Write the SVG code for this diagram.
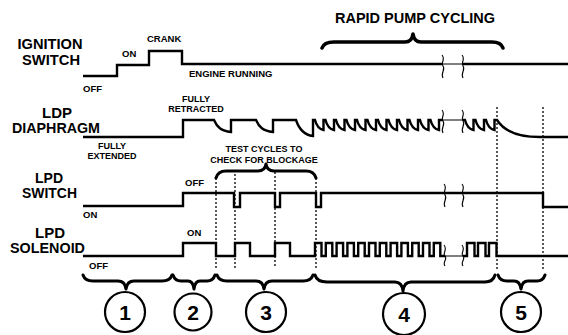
<svg xmlns="http://www.w3.org/2000/svg" width="568" height="335" viewBox="0 0 568 335">
<style>
text{font-family:"Liberation Sans",Arial,sans-serif;font-weight:bold;fill:#000}
.big{font-size:14px;text-anchor:middle}
.sm{font-size:9.5px}
.smc{font-size:9px;text-anchor:middle}
.hdr{font-size:14.5px;text-anchor:middle}
.num{font-size:21px;text-anchor:middle}
.wave{fill:none;stroke:#000;stroke-width:2.4;stroke-linejoin:miter}
.thin{fill:none;stroke:#000;stroke-width:1}
.brk{fill:none;stroke:#000;stroke-width:1.1}
.dot{fill:none;stroke:#000;stroke-width:1.3;stroke-dasharray:2 2}
.brace{fill:none;stroke:#000;stroke-width:3;stroke-linecap:round;stroke-linejoin:round}
.circ{fill:none;stroke:#000;stroke-width:2.2}
</style>
<rect width="568" height="335" fill="#fff"/>

<g id="ignition-switch">
<text class="big" x="50" y="49" textLength="65" lengthAdjust="spacingAndGlyphs">IGNITION</text>
<text class="big" x="51" y="65" textLength="58" lengthAdjust="spacingAndGlyphs">SWITCH</text>
<path class="wave" d="M83,76 H117 V65 H149 V51 H182 V64 H443 M463,64 H568"/>
<path class="thin" d="M443,64 H463"/>
<text class="sm" x="122" y="57">ON</text>
<text class="sm" x="147" y="42">CRANK</text>
<text class="sm" x="189" y="77">ENGINE RUNNING</text>
<text class="sm" x="83" y="92">OFF</text>
<path class="brk" d="M442,55 C446,60 440,63 443,66 C446,70 440,73 443,78"/>
<path class="brk" d="M462,55 C466,60 460,63 463,66 C466,70 460,73 463,78"/>
</g>

<g id="rapid-pump-cycling">
<text class="hdr" x="415" y="23">RAPID PUMP CYCLING</text>
<path class="brace" style="stroke-width:3.6" d="M322,48 Q324,42 334,42 L405,42 Q412,42 413,34 Q414,42 421,42 L492,42 Q501,42 503,48"/>
</g>

<g id="ldp-diaphragm">
<text class="big" x="57" y="118" textLength="30" lengthAdjust="spacingAndGlyphs">LDP</text>
<text class="big" x="56" y="133" textLength="88" lengthAdjust="spacingAndGlyphs">DIAPHRAGM</text>
<path class="wave" d="M83,137 H183 V120 H214 C217,127 221,131 231,132 V120 H256 C259,127 263,131 273,132 V120 H296 C299,129 304,135 313,136 V120
h2 c1.5,6 3.5,9 8.5,10 v-10 h2 c1.5,6 3.5,9 8.5,10 v-10 h2 c1.5,6 3.5,9 8.5,10 v-10 h2 c1.5,6 3.5,9 8.5,10 v-10
h2 c1.5,6 3.5,9 8.5,10 v-10 h2 c1.5,6 3.5,9 8.5,10 v-10 h2 c1.5,6 3.5,9 8.5,10 v-10 h2 c1.5,6 3.5,9 8.5,10 v-10
h2 c1.5,6 3.5,9 8.5,10 v-10 h2 c1.5,6 3.5,9 8.5,10 v-10 h2 c1.5,6 3.5,9 8.5,10 v-10 h2 c1.5,6 3.5,9 8.5,10 v-10 H443
M463,120 h2 c1.5,6 3.5,9 8.5,10 v-10 h2 c1.5,6 3.5,9 8.5,10 v-10 h2 c1.5,6 3.5,9 8.5,10 v-10 H497 C504,131 518,137 540,137 H568"/>
<path class="thin" d="M443,120 H463"/>
<path class="brk" d="M442,110 C446,115 440,118 443,121 C446,125 440,128 443,133"/>
<path class="brk" d="M462,110 C466,115 460,118 463,121 C466,125 460,128 463,133"/>
<text class="smc" x="196" y="102">FULLY</text>
<text class="smc" x="196" y="112">RETRACTED</text>
<text class="smc" x="112" y="148.5">FULLY</text>
<text class="smc" x="112" y="158.5">EXTENDED</text>
</g>

<g id="test-cycles">
<text class="smc" x="264" y="152">TEST CYCLES TO</text>
<text class="smc" x="264" y="162.5">CHECK FOR BLOCKAGE</text>
<path class="brace" d="M216,178 Q218,171 226,171 L258,171 Q265,171 266,164 Q267,171 274,171 L306,171 Q314,171 316,178"/>
</g>

<g id="lpd-switch">
<text class="big" x="49" y="182.5" textLength="28" lengthAdjust="spacingAndGlyphs">LPD</text>
<text class="big" x="49.5" y="197.5" textLength="55" lengthAdjust="spacingAndGlyphs">SWITCH</text>
<path class="wave" d="M83,206 H183 V193 H234 V207 H240 V193 H275 V207 H280 V193 H316 V207 H321 V193 H543 V207 H568"/>
<path class="brk" d="M444,184 C448,189 442,192 445,195 C448,199 442,202 445,207"/>
<path class="brk" d="M462,184 C466,189 460,192 463,195 C466,199 460,202 463,207"/>
<text class="sm" x="185" y="185.5">OFF</text>
<text class="sm" x="83" y="218">ON</text>
</g>

<g id="lpd-solenoid">
<text class="big" x="50" y="238" textLength="30" lengthAdjust="spacingAndGlyphs">LPD</text>
<text class="big" x="47.5" y="253" textLength="75" lengthAdjust="spacingAndGlyphs">SOLENOID</text>
<path class="wave" d="M83,256 H183 V243 H216 V256 H235 V243 H250 V256 H275 V243 H290 V256 H315 V243
h6.5 v13 h4.3 v-13 h6.5 v13 h4.3 v-13 h6.5 v13 h4.3 v-13 h6.5 v13 h4.3 v-13
h6.5 v13 h4.3 v-13 h6.5 v13 h4.3 v-13 h6.5 v13 h4.3 v-13 h6.5 v13 h4.3 v-13
h6.5 v13 h4.3 v-13 h6.5 v13 h4.3 v-13 h6.5 v13 h4.3 v-13 h6.5 v13 H445
M463,256 H467 V243 h7.5 V256 H478 V243 h7.5 V256 H489 V243 h7.5 V256 H568"/>
<path class="thin" d="M445,256 H463"/>
<path class="brk" d="M444,245 C448,250 442,253 445,256 C448,259 442,262 445,266"/>
<path class="brk" d="M462,245 C466,250 460,253 463,256 C466,259 460,262 463,266"/>
<text class="sm" x="187" y="236">ON</text>
<text class="sm" x="89" y="269">OFF</text>
</g>

<g id="connectors">
<path class="dot" d="M216,178 V270 M235,174 V268 M275,172 V268 M316,178 V268 M497,107 V270 M543,107 V270"/>
</g>

<g id="phase-1">
<path class="brace" d="M83,275 Q85,281 93,281 L118,281 Q125,281 126,289 Q127,281 134,281 L162,281 Q170,281 172,275"/>
<circle class="circ" cx="125" cy="312" r="20"/>
<text class="num" x="125" y="320">1</text>
</g>
<g id="phase-2">
<path class="brace" d="M173,275 Q175,281 181,281 L188,281 Q193,281 194,289 Q195,281 200,281 L207,281 Q213,281 215,275"/>
<circle class="circ" cx="193" cy="312" r="18.5"/>
<text class="num" x="193" y="320">2</text>
</g>
<g id="phase-3">
<path class="brace" d="M217,275 Q219,281 227,281 L256,281 Q263,281 264,289 Q265,281 272,281 L303,281 Q311,281 313,275"/>
<circle class="circ" cx="266" cy="312" r="20"/>
<text class="num" x="266" y="320">3</text>
</g>
<g id="phase-4">
<path class="brace" d="M315,275 Q317,282 327,282 L395,282 Q402,282 403,291 Q404,282 411,282 L485,282 Q493,282 495,275"/>
<circle class="circ" cx="404" cy="314" r="21"/>
<text class="num" x="404" y="322">4</text>
</g>
<g id="phase-5">
<path class="brace" d="M498,275 Q500,281 507,281 L514,281 Q520,281 521,289 Q522,281 528,281 L537,281 Q543,281 545,275"/>
<circle class="circ" cx="521" cy="312" r="20"/>
<text class="num" x="521" y="320">5</text>
</g>
</svg>
